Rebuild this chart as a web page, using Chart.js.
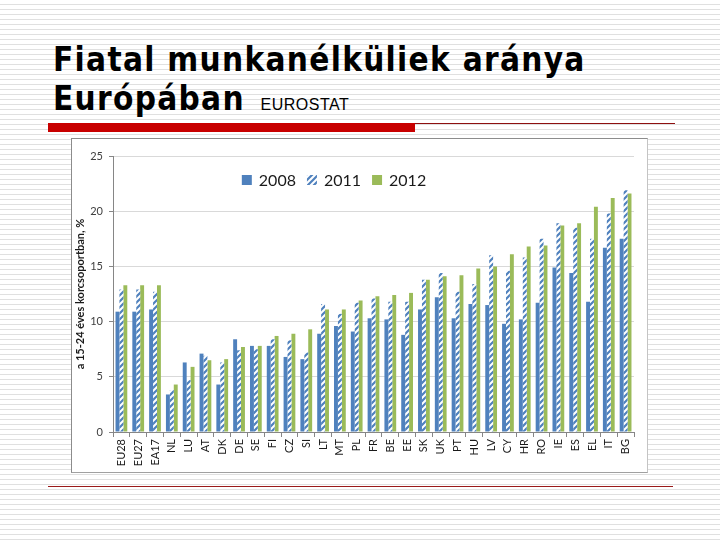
<!DOCTYPE html>
<html>
<head>
<meta charset="utf-8">
<title>Fiatal munkanélküliek aránya Európában</title>
<script src="https://cdn.jsdelivr.net/npm/chart.js"></script>
<style>
  html, body { margin: 0; padding: 0; }
  body {
    width: 720px; height: 540px; position: relative; overflow: hidden;
    background: repeating-linear-gradient(to bottom, #ffffff 0px, #ffffff 4px, #e0e0e0 4px, #e0e0e0 5px);
  }
  .title {
    position: absolute; left: 53px; white-space: nowrap; line-height: 1;
    font-family: 'DejaVu Sans Condensed', 'DejaVu Sans', sans-serif;
    font-weight: bold; font-size: 33px; color: #000; letter-spacing: 1.3px;
  }
  .title small {
    font-family: 'Liberation Sans', Arial, sans-serif; font-weight: normal;
    font-size: 16px; letter-spacing: 0.5px; margin-left: 4px;
  }
  #redbar { position: absolute; left: 48px; top: 123px; width: 367px; height: 9px; background: #c80000; }
  #topline { position: absolute; left: 415px; top: 123px; width: 260px; height: 1px; background: #8e1010; }
  #bottomline { position: absolute; left: 48px; top: 486px; width: 625px; height: 1px; background: #9a1a1a; }
  #box {
    position: absolute; left: 71px; top: 138px; width: 577px; height: 335px; box-sizing: border-box;
    background: #fff; border: 1px solid #8c8c8c; border-right-color: #c4c4c4; border-bottom-color: #a0a0a0;
  }
  #wrap { position: absolute; left: 0; top: 0; width: 575px; height: 333px; }
</style>
</head>
<body>
<div class="title" style="top:43px">Fiatal munkanélküliek aránya</div>
<div class="title" style="top:82px">Európában <small>EUROSTAT</small></div>
<div id="redbar"></div>
<div id="topline"></div>
<div id="bottomline"></div>
<div id="box"><div id="wrap"><canvas id="chart"></canvas></div></div>
<script>
// Countries, ordered as in the Eurostat chart
const categories = ['EU28', 'EU27', 'EA17', 'NL', 'LU', 'AT', 'DK', 'DE', 'SE', 'FI', 'CZ', 'SI', 'LT', 'MT', 'PL',
  'FR', 'BE', 'EE', 'SK', 'UK', 'PT', 'HU', 'LV', 'CY', 'HR', 'RO', 'IE', 'ES', 'EL', 'IT', 'BG'];

// Values (%)
const values2008 = [10.9, 10.9, 11.1, 3.4, 6.3, 7.1, 4.3, 8.4, 7.8, 7.8, 6.8, 6.6, 8.9, 9.6, 9.1,
  10.3, 10.2, 8.8, 11.1, 12.2, 10.3, 11.6, 11.5, 9.8, 10.2, 11.7, 14.9, 14.4, 11.8, 16.7, 17.5];
const values2011 = [12.9, 12.9, 12.7, 3.8, 4.7, 6.9, 6.3, 7.4, 7.5, 8.4, 8.3, 7.2, 11.6, 10.7, 11.7,
  12.1, 11.8, 11.8, 13.8, 14.4, 12.7, 13.4, 16.0, 14.6, 15.8, 17.5, 18.9, 18.5, 17.5, 19.8, 21.9];
const values2012 = [13.3, 13.3, 13.3, 4.3, 5.9, 6.5, 6.6, 7.7, 7.8, 8.7, 8.9, 9.3, 11.1, 11.1, 11.9,
  12.3, 12.4, 12.6, 13.8, 14.1, 14.2, 14.8, 15.0, 16.1, 16.8, 16.9, 18.7, 18.9, 20.4, 21.2, 21.6];

const seriesLabels = ['2008', '2011', '2012'];
const axisTitle = 'a 15-24 éves korcsoportban, %';

const blue = '#4f81bd';
const green = '#9bbb59';

// Excel style "wide upward diagonal" hatch
function hatch(color) {
  const c = document.createElement('canvas');
  c.width = 6; c.height = 6;
  const g = c.getContext('2d');
  g.fillStyle = '#fff';
  g.fillRect(0, 0, 6, 6);
  g.strokeStyle = color;
  g.lineWidth = 2.2;
  g.beginPath();
  g.moveTo(0, 6); g.lineTo(6, 0);
  g.moveTo(-3, 3); g.lineTo(3, -3);
  g.moveTo(3, 9); g.lineTo(9, 3);
  g.stroke();
  return g.createPattern(c, 'repeat');
}

// legend sits inside the plot, like in the original
const insideLegend = {
  id: 'insideLegend',
  afterDraw(chart) {
    const ctx = chart.ctx;
    const ds = chart.data.datasets;
    const box = 10, gap = 7, space = 11;
    ctx.save();
    ctx.font = '16px Lato';
    ctx.textBaseline = 'middle';
    const widths = ds.map(d => ctx.measureText(d.label).width);
    let total = space * (ds.length - 1);
    widths.forEach(w => { total += box + gap + w; });
    let x = 262 - total / 2;
    const y = 41;
    ds.forEach((d, i) => {
      ctx.fillStyle = d.backgroundColor;
      ctx.fillRect(x, y - box / 2, box, box);
      x += box + gap;
      ctx.fillStyle = '#1a1a1a';
      ctx.fillText(d.label, x, y + 1);
      x += widths[i] + space;
    });
    ctx.restore();
  }
};

const tickFont = { family: 'Lato', size: 11 };

new Chart(document.getElementById('chart'), {
  type: 'bar',
  data: {
    labels: categories,
    datasets: [
      { label: seriesLabels[0], data: values2008, backgroundColor: blue },
      { label: seriesLabels[1], data: values2011, backgroundColor: hatch(blue) },
      { label: seriesLabels[2], data: values2012, backgroundColor: green }
    ]
  },
  options: {
    responsive: true,
    maintainAspectRatio: false,
    animation: false,
    layout: { padding: { top: 17, right: 13, left: 0, bottom: 0 } },
    datasets: { bar: { categoryPercentage: 0.7, barPercentage: 1.0 } },
    plugins: {
      legend: { display: false },
      tooltip: { enabled: false }
    },
    scales: {
      x: {
        grid: { offset: true, drawOnChartArea: false, color: '#868686', tickLength: 5 },
        border: { color: '#868686' },
        ticks: { autoSkip: false, minRotation: 90, maxRotation: 90, font: tickFont, color: '#1a1a1a', padding: 2 },
        afterFit(scale) { scale.height = 40; }
      },
      y: {
        min: 0,
        max: 25,
        ticks: { stepSize: 5, font: tickFont, color: '#404040', padding: 6 },
        grid: { color: '#d9d9d9', tickColor: '#868686', tickLength: 4 },
        border: { color: '#868686' },
        title: {
          display: true, text: axisTitle, color: '#1a1a1a',
          font: { family: 'Lato', size: 11, weight: 'bold' }, padding: { top: 2, bottom: 0 }
        },
        afterFit(scale) { scale.width = 41; }
      }
    }
  },
  plugins: [insideLegend]
});
</script>
</body>
</html>
